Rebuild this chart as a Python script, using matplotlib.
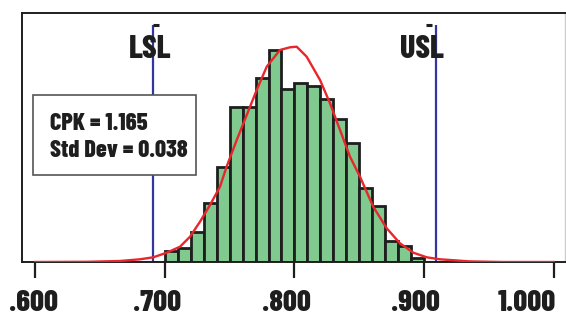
import matplotlib
matplotlib.use('Agg')
from matplotlib import pyplot as plt
from matplotlib.patches import Rectangle
from matplotlib.transforms import ScaledTranslation

# Data
bin_edges = [0.69, 0.70, 0.71, 0.72, 0.73, 0.74, 0.75, 0.76, 0.77, 0.78, 0.79, 0.80,
             0.81, 0.82, 0.83, 0.84, 0.85, 0.86, 0.87, 0.88, 0.89, 0.90, 0.91, 0.92]
counts = [0, 11, 14, 30, 59, 95, 155, 155, 184, 212, 173, 179,
          176, 163, 143, 119, 74, 56, 21, 16, 4, 0, 0]

curve_x = [0.600, 0.640, 0.6655, 0.6809, 0.6912, 0.7015, 0.7118, 0.7195, 0.7272, 0.7349,
           0.7426, 0.7477, 0.7555, 0.7632, 0.7709, 0.7786, 0.7888, 0.7965, 0.8017, 0.8094,
           0.8197, 0.8274, 0.8351, 0.8428, 0.8505, 0.8607, 0.8711, 0.8813, 0.8916, 0.9019,
           0.9121, 0.9198, 0.935, 0.960, 1.000]
curve_y = [0, 0.2, 1.0, 2.7, 4.7, 9.3, 15.3, 25.3, 40.3, 57,
           75.3, 95.3, 122, 147, 172, 195.3, 212, 214.7, 215.3, 205.3,
           182, 158.7, 132, 105.3, 85.3, 55.3, 33.7, 18.7, 9.3, 4.7,
           2.7, 2.0, 0.6, 0, 0]

lsl = 0.6909
usl = 0.909
tick_vals = [0.6, 0.7, 0.8, 0.9, 1.0]
tick_labels = ['.600', '.700', '.800', '.900', '1.000']
label_shift = [-1, -8, -8, -9, -27]   # pixel offsets of tick labels
cpk = 1.165
std_dev = 0.038

font = ['Barlow Condensed', 'DejaVu Sans']
ink = '#1e1e1e'
heavy = 800

fig = plt.figure(figsize=(5.66, 3.16), dpi=100)
ax = fig.add_axes([22 / 566, 54 / 316, 543 / 566, 249 / 316])

# histogram
widths = [bin_edges[i + 1] - bin_edges[i] for i in range(len(counts))]
ax.bar(bin_edges[:-1], counts, width=widths, align='edge', color='#80c98f',
       edgecolor=ink, linewidth=2.0, zorder=2)

# fitted curve
ax.plot(curve_x, curve_y, color='#e8262b', linewidth=1.7, zorder=3)

# spec limits
top = 237
ax.vlines([lsl, usl], 0, top, color='#3535a0', linewidth=1.6, zorder=1)
ax.hlines(top, lsl, lsl + 0.0045, color=ink, linewidth=2.2, zorder=4)
ax.hlines(top + 0.5, usl - 0.0075, usl - 0.003, color=ink, linewidth=2.2, zorder=4)
ax.text(0.689, 204, 'LSL', ha='center', va='baseline', fontsize=23,
        fontweight=heavy, family=font, color=ink, zorder=5)
ax.text(0.8985, 204, 'USL', ha='center', va='baseline', fontsize=23,
        fontweight=heavy, family=font, color=ink, zorder=5)

# stats box
ax.add_patch(Rectangle((0.0203, 0.3494), 0.300, 0.3213, transform=ax.transAxes,
                       facecolor='white', edgecolor='#555555', linewidth=1.2, zorder=6))
ax.text(0.0516, 0.530, f'CPK = {cpk:.3f}', transform=ax.transAxes, fontsize=17.5,
        fontweight=heavy, family=font, color=ink, va='baseline', zorder=7)
ax.text(0.0516, 0.4197, f'Std Dev = {std_dev:.3f}', transform=ax.transAxes, fontsize=17.5,
        fontweight=heavy, family=font, color=ink, va='baseline', zorder=7)

ax.set_xlim(0.590, 1.0085)
ax.set_ylim(0, 249)
ax.set_yticks([])
ax.set_xticks(tick_vals)
ax.set_xticklabels(tick_labels, fontsize=22, fontweight=heavy, family=font, color=ink)
ax.tick_params(axis='x', direction='out', length=11.5, width=1.6, color=ink, pad=9)
for lab, dx in zip(ax.get_xticklabels(), label_shift):
    lab.set_transform(lab.get_transform() + ScaledTranslation(dx / 100, 0, fig.dpi_scale_trans))

for side in ['left', 'top', 'bottom']:
    ax.spines[side].set_color(ink)
    ax.spines[side].set_linewidth(1.4)
ax.spines['right'].set_color('#cccccc')
ax.spines['right'].set_linewidth(1.0)

fig.savefig('out.png', dpi=100)
